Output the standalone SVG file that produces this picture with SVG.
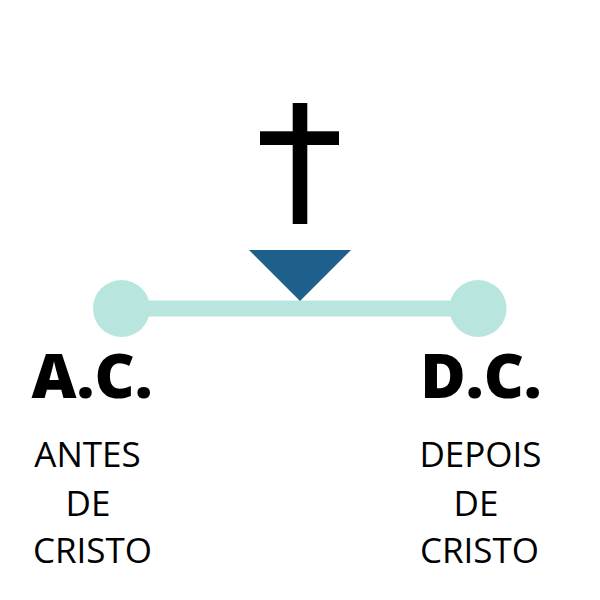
<svg xmlns="http://www.w3.org/2000/svg" width="600" height="600" viewBox="0 0 600 600">
<style>
.dot{fill:#b8e6df}
.big{font-family:"Open Sans","Liberation Sans",sans-serif;font-weight:800;font-size:62px;fill:#000;text-anchor:middle}
.small{font-family:"Open Sans","Liberation Sans",sans-serif;font-weight:400;font-size:35px;fill:#000;text-anchor:middle}
</style>
<rect width="600" height="600" fill="#fff"/>
<g id="connectors">
<line x1="121" y1="308.5" x2="478" y2="308.5" stroke="#b8e6df" stroke-width="16"/>
</g>
<g id="cross">
<rect x="292.7" y="103" width="14.6" height="121" fill="#000"/>
<rect x="260" y="131.3" width="79" height="13.7" fill="#000"/>
</g>
<g id="marker">
<polygon points="249,250 351,250 300,301" fill="#1f5f8b"/>
</g>
<g id="ac">
<circle class="dot" cx="121.5" cy="308.5" r="28.5"/>
<text class="big" x="92" y="398">A.C.</text>
<text class="small" x="87.5" y="467">ANTES</text>
<text class="small" x="88" y="516">DE</text>
<text class="small" x="92.5" y="563">CRISTO</text>
</g>
<g id="dc">
<circle class="dot" cx="478" cy="308.5" r="28.5"/>
<text class="big" x="481" y="398">D.C.</text>
<text class="small" x="480.5" y="467">DEPOIS</text>
<text class="small" x="476" y="516">DE</text>
<text class="small" x="479.5" y="563">CRISTO</text>
</g>
</svg>
